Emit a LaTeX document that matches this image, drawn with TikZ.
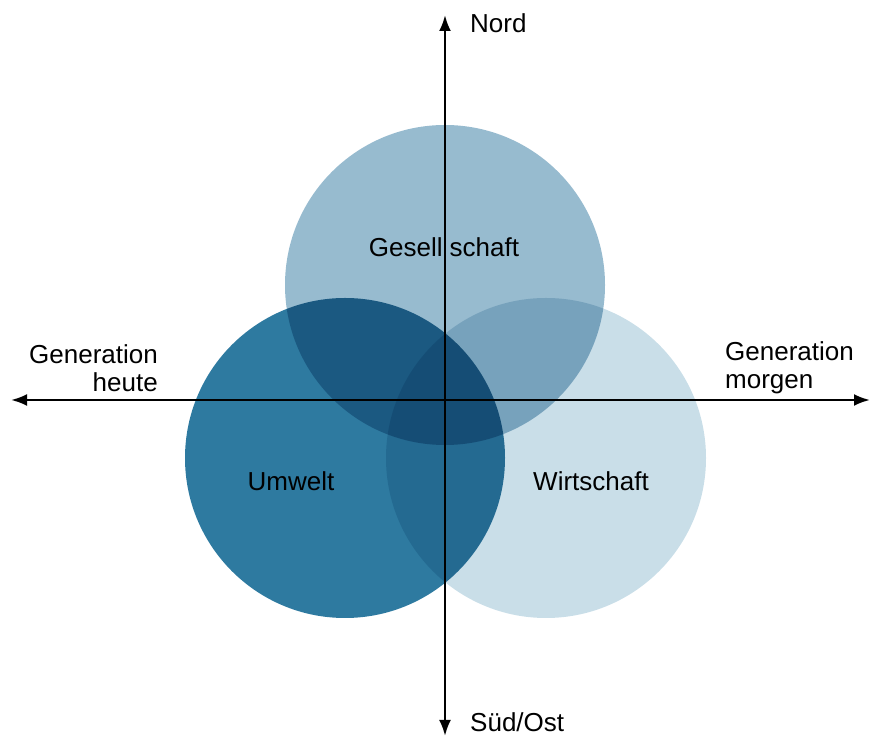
\documentclass[tikz,border=0pt]{standalone}
\usepackage{fontspec}
\setmainfont{Liberation Sans}
\usetikzlibrary{arrows.meta}

\definecolor{gesColor}{RGB}{151,187,207}
\definecolor{umwColor}{RGB}{46,122,160}
\definecolor{wirColor}{RGB}{201,222,232}

\tikzset{
  axis/.style={line width=2.5pt, -{Latex[length=16pt,width=12pt]}},
  lbl/.style={font=\fontsize{26}{28}\selectfont, inner sep=0pt},
}

\begin{document}
\begin{tikzpicture}[x=1pt, y=1pt]
        \useasboundingbox (0,0) rectangle (870,738);

        % die drei Kreise
        \begin{scope}[blend group=multiply]
            \fill[gesColor] (445,453) circle (160);
            \fill[umwColor] (345,280) circle (160);
            \fill[wirColor] (546,280) circle (160);
        \end{scope}

        \node[lbl] (ges) at (444,491) {Gesell schaft};
        \node[lbl] (umw) at (291,257) {Umwelt};
        \node[lbl] (wir) at (591,257) {Wirtschaft};

        % Achsen
        \coordinate (mitte) at (445,338);
        \coordinate (west) at (11,338);
        \coordinate (ost) at (870,338);
        \coordinate (nord) at (445,723);
        \coordinate (sued) at (445,2);
        \draw[axis] (mitte) -- (west);
        \draw[axis] (mitte) -- (ost);
        \draw[axis] (mitte) -- (nord);
        \draw[axis] (mitte) -- (sued);

        \node[lbl, anchor=west] (nordL) at (470,715) {Nord};
        \node[lbl, anchor=west] (suedL) at (470,16) {Süd/Ost};
        \node[lbl, anchor=east, align=right] (heute) at (158,370) {Generation\\heute};
        \node[lbl, anchor=west, align=left] (morgen) at (725,370) {Generation\\morgen};
\end{tikzpicture}
\end{document}
